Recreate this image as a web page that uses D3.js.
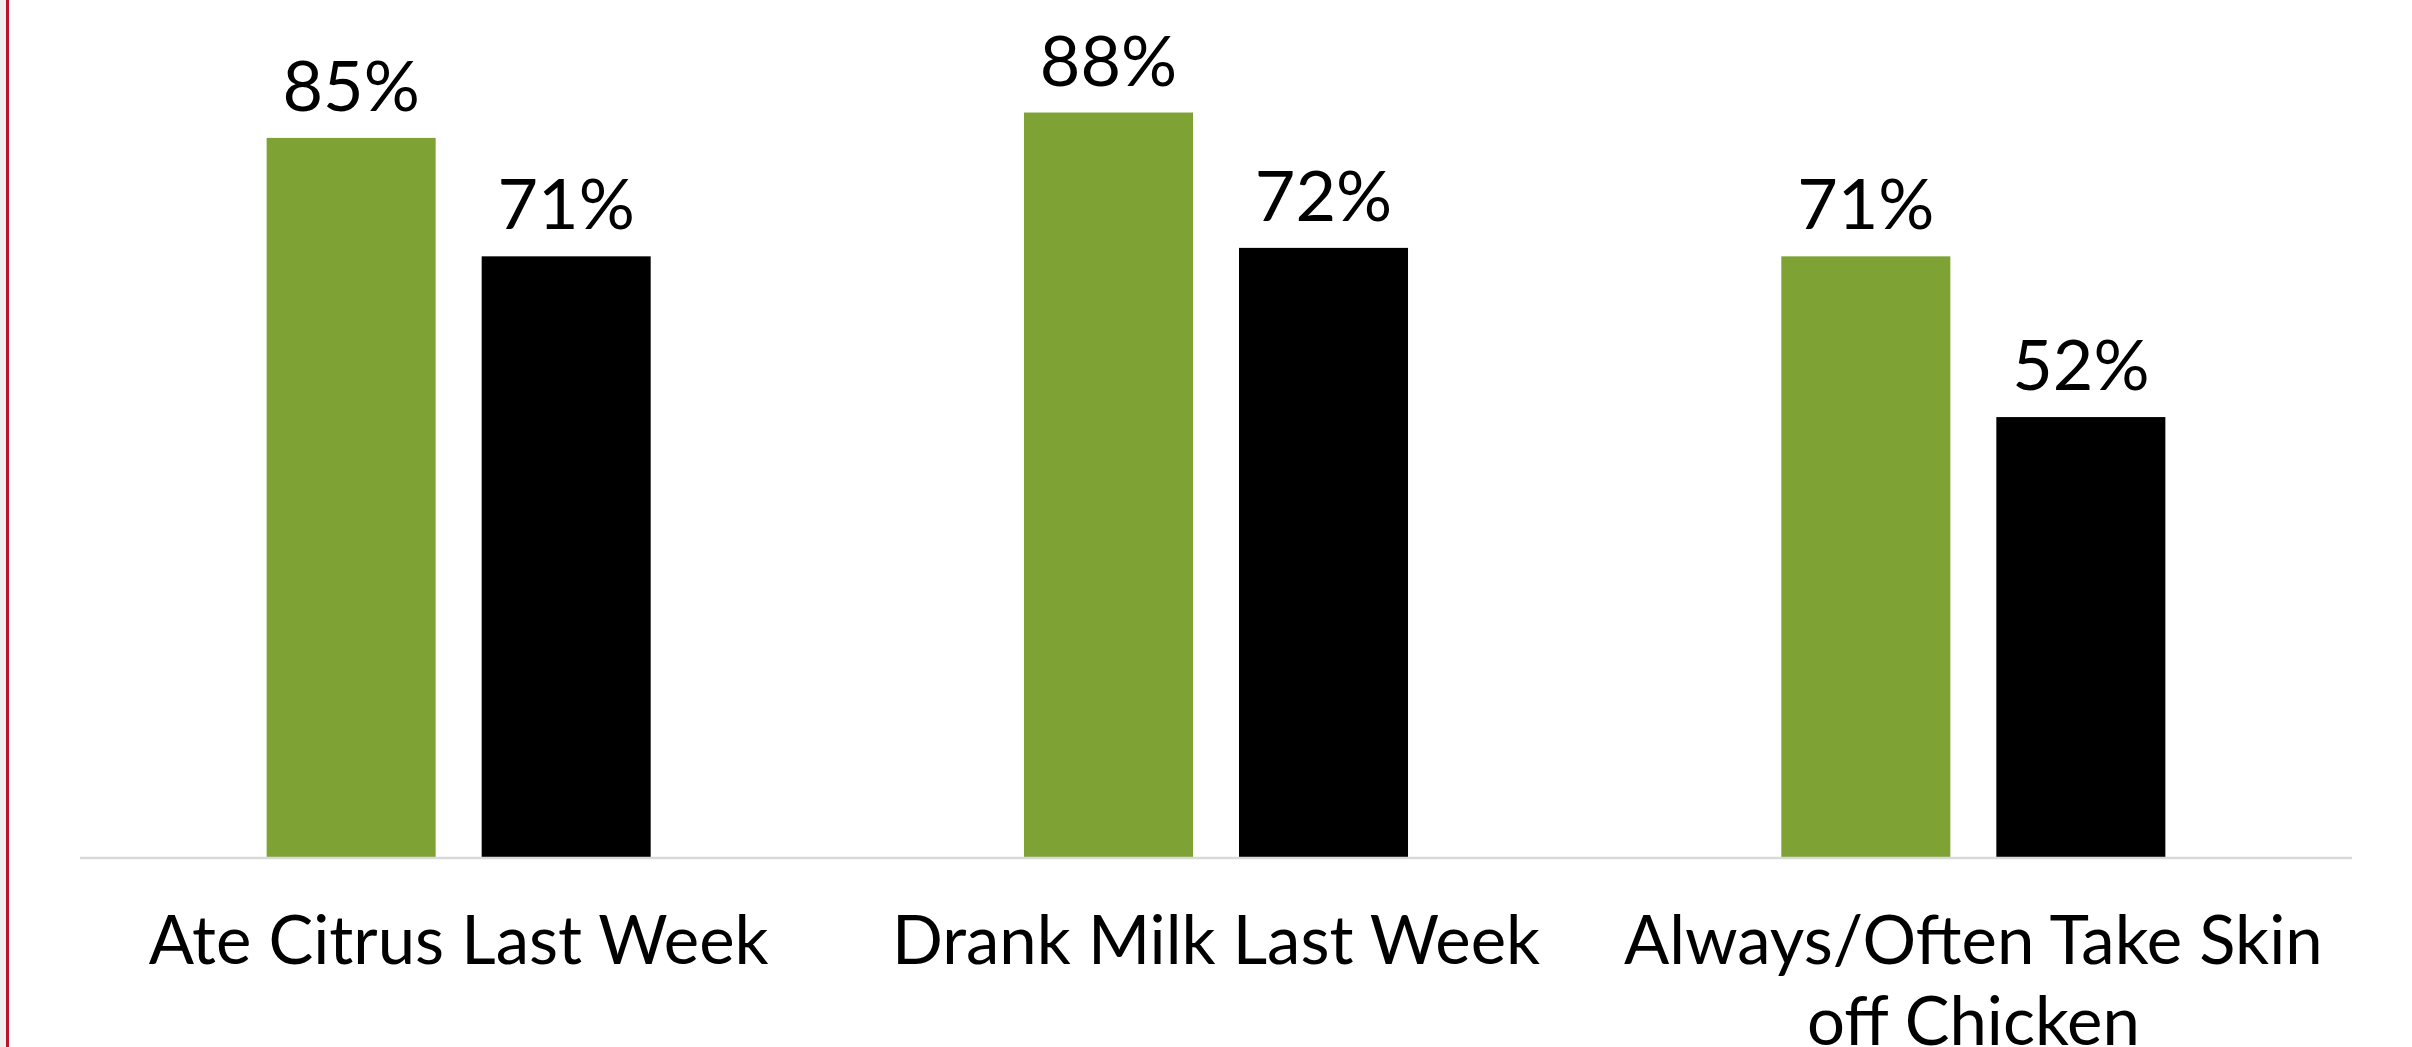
<!DOCTYPE html>
<html>
<head>
<meta charset="utf-8">
<script src="https://cdn.jsdelivr.net/npm/d3@7"></script>
<style>
  html, body { margin: 0; padding: 0; background: #fff; }
  svg { display: block; }
</style>
</head>
<body>
<div id="chart"></div>
<script>
// Chart data
const categories = ['Ate Citrus Last Week', 'Drank Milk Last Week', 'Always/Often Take Skin off Chicken'];
const seriesNames = ['Group A', 'Group B'];
const seriesA = [0.85, 0.88, 0.71];
const seriesB = [0.71, 0.72, 0.52];
const seriesColors = ['#7ea234', '#000000'];

const WIDTH = 2412;
const HEIGHT = 1047;
const FONT = "Futura, 'Century Gothic', 'Tw Cen MT', Lato, sans-serif";

const plot = { left: 80, right: 2352, top: 11, bottom: 857 };

const svg = d3.select('#chart')
  .append('svg')
  .attr('width', WIDTH)
  .attr('height', HEIGHT);

// Left slide border: grey strip + red rule
svg.append('rect')
  .attr('x', 0).attr('y', 0)
  .attr('width', 6).attr('height', HEIGHT)
  .attr('fill', '#efefef');
svg.append('rect')
  .attr('x', 6).attr('y', 0)
  .attr('width', 3).attr('height', HEIGHT)
  .attr('fill', '#c0102c');

const x0 = d3.scaleBand()
  .domain(categories)
  .range([plot.left, plot.right])
  .padding(0);

const x1 = d3.scaleBand()
  .domain(seriesNames)
  .range([0, x0.bandwidth()])
  .paddingInner(0.214)
  .paddingOuter(0.868);

const y = d3.scaleLinear()
  .domain([0, 1])
  .range([plot.bottom, plot.top]);

const rows = categories.map((c, i) => ({
  category: c,
  values: [
    { series: seriesNames[0], value: seriesA[i], color: seriesColors[0] },
    { series: seriesNames[1], value: seriesB[i], color: seriesColors[1] }
  ]
}));

const groups = svg.append('g')
  .selectAll('g')
  .data(rows)
  .join('g')
  .attr('transform', d => `translate(${x0(d.category)},0)`);

groups.selectAll('rect')
  .data(d => d.values)
  .join('rect')
  .attr('x', d => x1(d.series))
  .attr('y', d => y(d.value))
  .attr('width', x1.bandwidth())
  .attr('height', d => y(0) - y(d.value))
  .attr('fill', d => d.color);

groups.selectAll('text.value')
  .data(d => d.values)
  .join('text')
  .attr('class', 'value')
  .attr('x', d => x1(d.series) + x1.bandwidth() / 2)
  .attr('y', d => y(d.value) - 27)
  .attr('text-anchor', 'middle')
  .attr('font-family', FONT)
  .attr('font-size', '70px')
  .attr('fill', '#000')
  .text(d => d3.format('.0%')(d.value));

// Baseline
svg.append('line')
  .attr('x1', plot.left).attr('x2', plot.right)
  .attr('y1', y(0) + 1).attr('y2', y(0) + 1)
  .attr('stroke', '#d9d9d9')
  .attr('stroke-width', 2.5);

// Category axis labels (wrapped)
const xAxis = d3.axisBottom(x0).tickSize(0).tickPadding(0);
const axisG = svg.append('g')
  .attr('transform', `translate(0,${y(0)})`)
  .call(xAxis);
axisG.select('.domain').remove();
axisG.selectAll('text')
  .attr('font-family', FONT)
  .attr('font-size', '67px')
  .attr('fill', '#000')
  .attr('dy', null)
  .attr('y', 107)
  .call(wrap, x0.bandwidth() - 10);

function wrap(texts, width) {
  texts.each(function() {
    const text = d3.select(this);
    const words = text.text().split(/\s+/);
    const yPos = text.attr('y');
    const lineHeight = 81;
    let line = [];
    let lineNo = 0;
    let tspan = text.text(null).append('tspan').attr('x', 0).attr('y', yPos);
    words.forEach(word => {
      line.push(word);
      tspan.text(line.join(' '));
      if (tspan.node().getComputedTextLength() > width && line.length > 1) {
        line.pop();
        tspan.text(line.join(' '));
        line = [word];
        lineNo++;
        tspan = text.append('tspan')
          .attr('x', 0)
          .attr('y', +yPos + lineNo * lineHeight)
          .text(word);
      }
    });
  });
}
</script>
</body>
</html>
